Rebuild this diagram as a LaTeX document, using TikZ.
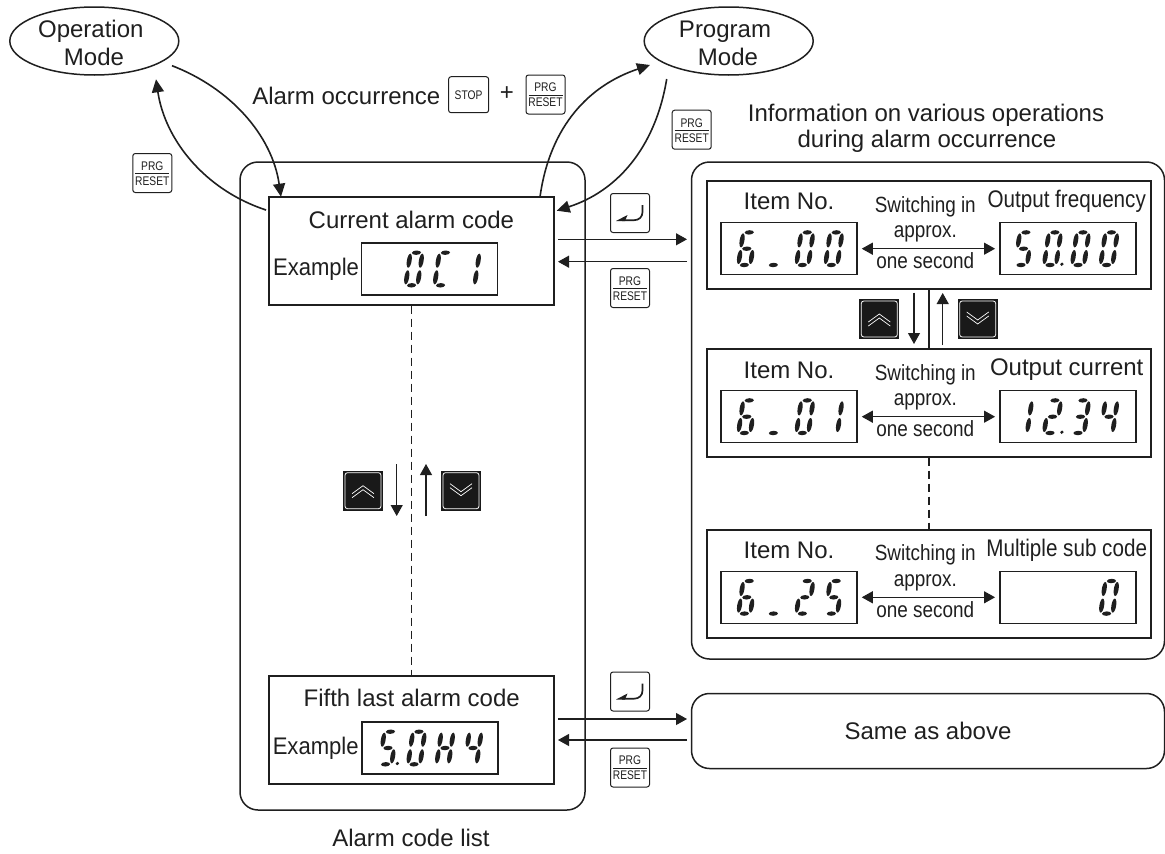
\documentclass[tikz,border=0pt]{standalone}
\usepackage{fontspec}
\setmainfont{Liberation Sans}
\newfontfamily\narrowf[FakeStretch=0.86]{Liberation Sans}
\newfontfamily\keyf[FakeStretch=0.82]{Liberation Sans}
\usetikzlibrary{arrows.meta,shapes.geometric}
\colorlet{ink}{black!88}
\tikzset{
  tx/.style={inner sep=0pt,font=\fontsize{24}{24}\selectfont,text=ink},
  txn/.style={inner sep=0pt,font=\narrowf\fontsize{24}{24}\selectfont,text=ink},
  txs/.style={inner sep=0pt,font=\narrowf\fontsize{22}{22}\selectfont,text=ink},
  keytx/.style={inner sep=0pt,font=\keyf\fontsize{12.5}{12.5}\selectfont,text=ink},
  panel/.style={draw=ink,line width=1.9pt,fill=white,inner sep=0pt},
  disp/.style={draw=ink,line width=1.5pt,fill=white,inner sep=0pt,minimum width=136pt,minimum height=52pt},
  roundbox/.style={draw=ink,line width=1.5pt,rounded corners=18pt,inner sep=0pt},
  modeell/.style={draw=ink,line width=1.5pt,fill=white,ellipse,inner sep=0pt,minimum width=169pt,minimum height=68pt},
  key/.style={draw=ink,line width=1pt,fill=white,rounded corners=2.5pt,inner sep=0pt,minimum width=39pt,minimum height=39pt},
  bkey/.style={fill=black!90,inner sep=0pt,minimum width=40pt,minimum height=40pt},
  arr/.style={draw=ink,line width=1.1pt,-{Triangle[length=11pt,width=12pt]}},
  darr/.style={draw=ink,line width=1.1pt,{Triangle[length=11pt,width=12pt]}-{Triangle[length=11pt,width=12pt]}},
  carr/.style={draw=ink,line width=1.6pt,-{Triangle[length=13pt,width=12pt]}},
  dashline/.style={draw=ink,line width=1.5pt,dash pattern=on 8pt off 5pt},
}
\def\sga{\fill[ink] (0,-16.3) ellipse [x radius=4.6pt,y radius=2.2pt];}
\def\sgg{\fill[ink] (0,0) ellipse [x radius=4.6pt,y radius=2.2pt];}
\def\sgd{\fill[ink] (0,16.3) ellipse [x radius=4.6pt,y radius=2.2pt];}
\def\sgf{\fill[ink] (-6,-8.3) ellipse [x radius=2.4pt,y radius=7pt];}
\def\sgb{\fill[ink] (6,-8.3) ellipse [x radius=2.4pt,y radius=7pt];}
\def\sge{\fill[ink] (-6,8.3) ellipse [x radius=2.4pt,y radius=7pt];}
\def\sgc{\fill[ink] (6,8.3) ellipse [x radius=2.4pt,y radius=7pt];}
\def\sgp{\fill[ink] (11.7,15.5) circle [radius=1.8pt];}
\newcommand\dg[3]{\begin{scope}[shift={(#1,#2)},xslant=0.15]\foreach \s in {#3}{\csname sg\s\endcsname}\end{scope}}
\newcommand\prgkey[3]{%
  \node[key] (#1) at (#2,#3) {};
  \node[keytx] (#1-a) at (#2,{#3-7}) {PRG};
  \node[keytx] (#1-b) at (#2,{#3+8}) {RESET};
  \coordinate (#1-l) at ({#2-17},{#3+0.8});
  \coordinate (#1-r) at ({#2+17},{#3+0.8});
  \draw[ink,line width=0.8pt] (#1-l) -- (#1-r);}
\newcommand\enterkey[3]{%
  \node[key] (#1) at (#2,#3) {};
  \draw[ink,line width=1.7pt] ({#2+12.5},{#3-8}) -- ({#2+12.5},{#3-1}) .. controls ({#2+12.5},{#3+4}) and ({#2+9},{#3+7.2}) .. ({#2+4},{#3+7.2}) -- ({#2-8},{#3+7.2});
  \fill[ink] ({#2-14},{#3+8}) -- ({#2-2.5},{#3+2}) -- ({#2-5},{#3+8}) -- cycle;}
\newcommand\upkey[3]{%
  \node[bkey] (#1) at (#2,#3) {};
  \draw[white,line width=0.8pt,rounded corners=2.5pt] ({#2-18},{#3-18}) rectangle ({#2+18},{#3+18});
  \draw[white,line width=0.7pt] ({#2-11},{#3+3}) -- (#2,{#3-5}) -- ({#2+11},{#3+3});
  \draw[white,line width=0.7pt] ({#2-11},{#3+7}) -- (#2,{#3-1}) -- ({#2+11},{#3+7});}
\newcommand\downkey[3]{%
  \node[bkey] (#1) at (#2,#3) {};
  \draw[white,line width=0.8pt,rounded corners=2.5pt] ({#2-18},{#3-18}) rectangle ({#2+18},{#3+18});
  \draw[white,line width=0.7pt] ({#2-11},{#3-7}) -- (#2,{#3+1}) -- ({#2+11},{#3-7});
  \draw[white,line width=0.7pt] ({#2-11},{#3-3}) -- (#2,{#3+5}) -- ({#2+11},{#3-3});}
\newcommand\swrow[2]{% name, y of arrow
  \node[txs] (#1-s) at (925.3,{#2-42}) {Switching in};
  \node[txs] (#1-p) at (925.3,{#2-14.5}) {approx.};
  \node[txs] (#1-o) at (925.3,{#2+12}) {one second};
  \node[disp] (#1-L) at (789,#2) {};
  \node[disp] (#1-R) at (1067.8,#2) {};
  \coordinate (#1-la) at ([xshift=4pt]#1-L.east);
  \coordinate (#1-ra) at ([xshift=-4pt]#1-R.west);
  \draw[darr] (#1-la) -- (#1-ra);}
\begin{document}
\begin{tikzpicture}[x=1pt,y=-1pt]
\useasboundingbox (0,0) rectangle (1165,854);
% outer rounded boxes
\node[roundbox,minimum width=345pt,minimum height=648pt] (listbox) at (412.5,486) {};
\node[roundbox,minimum width=473pt,minimum height=497pt] (infobox) at (928,410.5) {};
\node[roundbox,minimum width=473pt,minimum height=75pt] (same) at (928,731) {};
\node[tx] (sametx) at (928,731) {Same as above};
\node[tx] (listcap) at (411,838) {Alarm code list};
\node[tx] (info1) at (926,115) {Information on various operations};
\node[tx] (info2) at (927,141) {during alarm occurrence};
% left panels
\node[panel,minimum width=285pt,minimum height=107.5pt] (cur) at (411.5,251) {};
\node[panel,minimum width=285pt,minimum height=108pt] (fifth) at (411.5,730) {};
\draw[dashline] (cur.south) -- (fifth.north);
\node[tx] (curt) at (411.4,220) {Current alarm code};
\node[tx,xscale=0.92] (cure) at (316,269) {Example};
\node[disp] (curd) at (429.5,269) {};
\dg{414}{269}{a,b,c,d,e,f}
\dg{443}{269}{a,d,e,f}
\dg{471}{269}{b,c}
\node[tx] (fift) at (411.7,698) {Fifth last alarm code};
\node[tx,xscale=0.92] (fife) at (315.7,748) {Example};
\node[disp] (fifd) at (429.8,748) {};
\dg{388}{748}{a,f,g,c,d,p}
\dg{416.5}{748}{a,b,c,d,e,f}
\dg{445}{748}{b,c,e,f,g}
\dg{473}{748}{b,c,f,g}
% right panels
\node[panel,minimum width=444.5pt,minimum height=107.4pt] (p1) at (928.8,235) {};
\node[panel,minimum width=444.5pt,minimum height=107.4pt] (p2) at (928.8,403) {};
\node[panel,minimum width=444.5pt,minimum height=108.3pt] (p3) at (928.8,584.2) {};
\draw[ink,line width=1.4pt] (p1.south) -- (p2.north);
\draw[dashline] (p2.south) -- (p3.north);
% row 1
\node[tx] (n1) at (789,201.7) {Item No.};
\node[txn] (o1) at (1066.7,201.7) {Output frequency};
\swrow{r1}{248.7}
\dg{746.8}{248.7}{a,f,g,e,d,c}
\dg{775.8}{248.7}{d}
\dg{804.8}{248.7}{a,b,c,d,e,f}
\dg{833.8}{248.7}{a,b,c,d,e,f}
\dg{1023.5}{248.7}{a,f,g,c,d}
\dg{1052.5}{248.7}{a,b,c,d,e,f,p}
\dg{1080.5}{248.7}{a,b,c,d,e,f}
\dg{1109}{248.7}{a,b,c,d,e,f}
% row 2
\node[tx] (n2) at (789,370) {Item No.};
\node[tx] (o2) at (1066.7,370) {Output current};
\swrow{r2}{416.7}
\dg{746.8}{416.7}{a,f,g,e,d,c}
\dg{775.8}{416.7}{d}
\dg{804.8}{416.7}{a,b,c,d,e,f}
\dg{833.8}{416.7}{b,c}
\dg{1023.5}{416.7}{b,c}
\dg{1052.5}{416.7}{a,b,g,e,d,p}
\dg{1080.5}{416.7}{a,b,g,c,d}
\dg{1109}{416.7}{f,g,b,c}
% row 3
\node[tx] (n3) at (789,550.7) {Item No.};
\node[txn] (o3) at (1066.7,550.7) {Multiple sub code};
\swrow{r3}{597.3}
\dg{746.8}{597.3}{a,f,g,e,d,c}
\dg{775.8}{597.3}{d}
\dg{804.8}{597.3}{a,b,g,e,d}
\dg{833.8}{597.3}{a,f,g,c,d}
\dg{1109}{597.3}{a,b,c,d,e,f}
% ellipses
\node[modeell] (op) at (94.3,41) {};
\node[tx] (op1) at (90.8,31.7) {Operation};
\node[tx] (op2) at (94,57) {Mode};
\node[modeell] (pr) at (728.7,41) {};
\node[tx] (pr1) at (725,31.7) {Program};
\node[tx] (pr2) at (728,57) {Mode};
% top label
\node[tx] (alarm) at (346.3,96) {Alarm occurrence};
\node[tx] (plus) at (507,94) {+};
\node[key,minimum width=40pt,minimum height=36pt] (stop) at (468.6,94.7) {};
\node[keytx] (stopt) at (468.6,94.7) {STOP};
\prgkey{k1}{545.5}{94.5}
\prgkey{k2}{152.3}{173}
\prgkey{k3}{691.7}{129.7}
\enterkey{e1}{630}{213}
\prgkey{k4}{630}{288}
\enterkey{e2}{630}{691.5}
\prgkey{k5}{630}{767.5}
% curved
\coordinate (c1s) at (172,65.7);
\coordinate (c1t) at (281,196.7);
\coordinate (c2s) at (266,210);
\coordinate (c2t) at (156,79.3);
\coordinate (c3s) at (540,197);
\coordinate (c3t) at (650,65);
\coordinate (c4s) at (666.7,79);
\coordinate (c4t) at (556.7,210.7);
\draw[carr] (c1s) .. controls (230,88) and (272,135) .. (c1t);
\draw[carr] (c2s) .. controls (205,190) and (165,140) .. (c2t);
\draw[carr] (c3s) .. controls (550,125) and (590,85) .. (c3t);
\draw[carr] (c4s) .. controls (655,150) and (615,192) .. (c4t);
% horizontal arrows
\coordinate (h1a) at (558,239.3); \coordinate (h1b) at (687,239.3);
\coordinate (h2a) at (687,261.7); \coordinate (h2b) at (558,261.7);
\coordinate (h3a) at (558,719); \coordinate (h3b) at (687,719);
\coordinate (h4a) at (687,740); \coordinate (h4b) at (558,740);
\draw[arr] (h1a) -- (h1b);
\draw[arr] (h2a) -- (h2b);
\draw[arr] (h3a) -- (h3b);
\draw[arr] (h4a) -- (h4b);
% vertical pairs
\upkey{u1}{363}{490.7}
\downkey{d1}{461}{490.7}
\coordinate (v1a) at (396.7,464); \coordinate (v1b) at (396.7,516);
\coordinate (v2a) at (426,516); \coordinate (v2b) at (426,464);
\draw[arr] (v1a) -- (v1b);
\draw[arr] (v2a) -- (v2b);
\upkey{u2}{879.3}{319}
\downkey{d2}{977.7}{319}
\coordinate (v3a) at (914,292.7); \coordinate (v3b) at (914,344);
\coordinate (v4a) at (942.7,345); \coordinate (v4b) at (942.7,293);
\draw[arr] (v3a) -- (v3b);
\draw[arr] (v4a) -- (v4b);
\end{tikzpicture}
\end{document}
